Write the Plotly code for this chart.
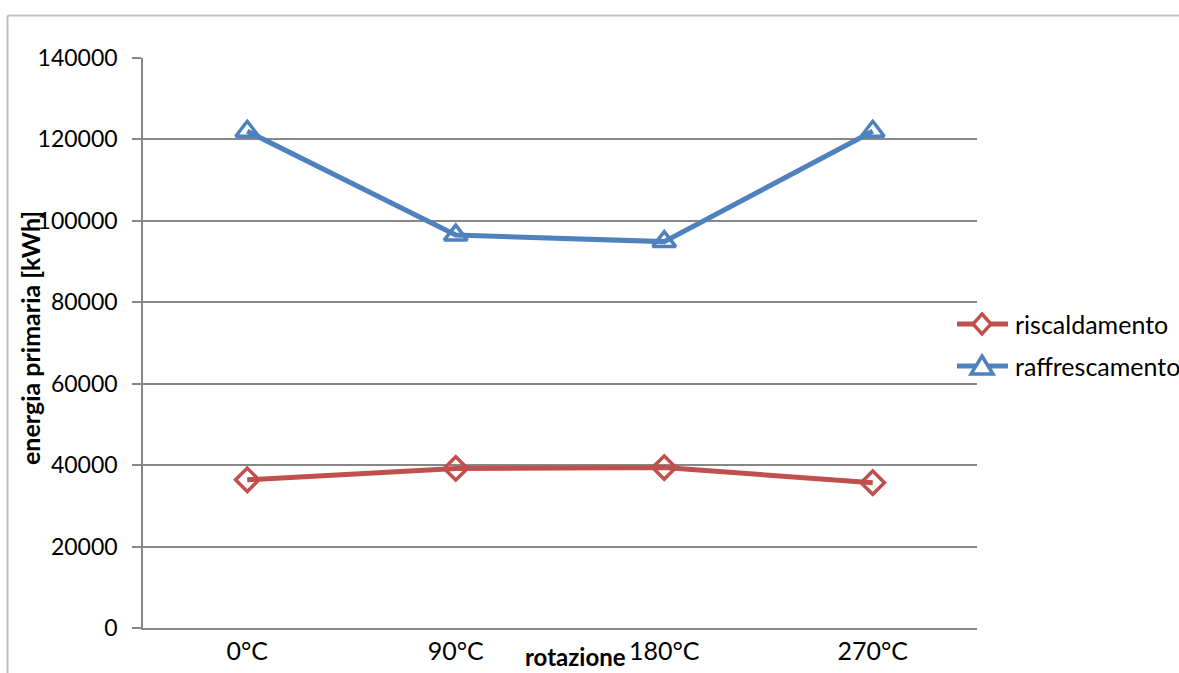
import plotly.graph_objects as go

categories = ["0°C", "90°C", "180°C", "270°C"]
riscaldamento = [36400, 39200, 39400, 35700]
raffrescamento = [122000, 96500, 94900, 122000]
y_ticks = [0, 20000, 40000, 60000, 80000, 100000, 120000, 140000]
series_names = ["riscaldamento", "raffrescamento"]
series_colors = ["#C0504D", "#4F81BD"]

FONT = "Lato"
GRID = "#878787"

fig = go.Figure()
fig.add_trace(go.Scatter(
    x=categories, y=riscaldamento, name=series_names[0], mode="lines+markers",
    line=dict(color=series_colors[0], width=5),
    marker=dict(symbol="diamond-open", size=18, color=series_colors[0],
                line=dict(width=3.5, color=series_colors[0])),
    showlegend=False, cliponaxis=False,
))
fig.add_trace(go.Scatter(
    x=categories, y=raffrescamento, name=series_names[1], mode="lines+markers",
    line=dict(color=series_colors[1], width=5),
    marker=dict(symbol="triangle-up-open", size=20, color=series_colors[1],
                line=dict(width=3.5, color=series_colors[1])),
    showlegend=False, cliponaxis=False,
))

L, R, T, B = 143, 977, 58, 628
W, H = 1179, 673

def px_x(p):
    return (p - L) / (R - L)

def px_y(p):
    return (B - p) / (B - T)

# hand-built legend (key line + symbol + label) positioned like the reference
legend_rows_y = [324, 366]
legend_line_x = (957, 1008)
legend_sym_x = 982
legend_text_x = 1013

shapes = [
    dict(type="line", xref="paper", yref="paper",
         x0=px_x(7.5), x1=px_x(7.5), y0=px_y(700), y1=px_y(15.5),
         line=dict(color="#BFBFBF", width=2)),
    dict(type="line", xref="paper", yref="paper",
         x0=px_x(7.5), x1=px_x(1200), y0=px_y(15.5), y1=px_y(15.5),
         line=dict(color="#BFBFBF", width=2)),
]
annotations = [
    dict(text="<b>rotazione</b>", xref="paper", yref="paper",
         x=px_x(575), y=px_y(673), xanchor="center", yanchor="bottom",
         showarrow=False, font=dict(family=FONT, size=24)),
    dict(text="<b>energia primaria [kWh]</b>", xref="paper", yref="paper",
         x=px_x(30), y=px_y(338), xanchor="center", yanchor="middle",
         textangle=-90, showarrow=False, font=dict(family=FONT, size=25)),
]
sym_paths = [
    "M0,10 L9,0 L0,-10 L-9,0 Z",        # diamond
    "M0,10 L11,-8 L-11,-8 Z",           # triangle up
]
for name, color, yy, path in zip(series_names, series_colors, legend_rows_y, sym_paths):
    shapes.append(dict(type="line", xref="paper", yref="paper",
                       x0=px_x(legend_line_x[0]), x1=px_x(legend_line_x[1]),
                       y0=px_y(yy), y1=px_y(yy),
                       line=dict(color=color, width=5)))
    shapes.append(dict(type="path", xref="paper", yref="paper",
                       xsizemode="pixel", ysizemode="pixel",
                       xanchor=px_x(legend_sym_x), yanchor=px_y(yy),
                       path=path, fillcolor="white",
                       line=dict(color=color, width=3.5)))
    annotations.append(dict(text=name, xref="paper", yref="paper",
                            x=px_x(legend_text_x), y=px_y(yy),
                            xanchor="left", yanchor="middle", showarrow=False,
                            font=dict(family=FONT, size=25, color="#000000")))

fig.update_layout(
    width=W, height=H,
    margin=dict(l=L, r=W - R, t=T, b=H - B, pad=0),
    paper_bgcolor="white", plot_bgcolor="white",
    font=dict(family=FONT, size=23, color="#000000"),
    showlegend=False,
    xaxis=dict(
        type="category", range=[-0.5, 3.5], showgrid=False,
        showline=True, linecolor=GRID, linewidth=1.5,
        ticks="", tickfont=dict(family=FONT, size=25), ticklabelstandoff=0,
        zeroline=False, automargin=False,
    ),
    yaxis=dict(
        range=[0, 140000], tickvals=y_ticks, ticktext=[str(v) for v in y_ticks],
        showgrid=True, gridcolor=GRID, gridwidth=1.5,
        showline=True, linecolor=GRID, linewidth=1.5,
        ticks="outside", ticklen=9, tickcolor=GRID, tickwidth=1.5,
        tickfont=dict(family=FONT, size=23), ticklabelstandoff=10,
        zeroline=False, automargin=False,
    ),
    annotations=annotations,
    shapes=shapes,
)

fig.write_html("out.html", config={"displayModeBar": False},
               post_script="document.body.style.margin='0px';")
